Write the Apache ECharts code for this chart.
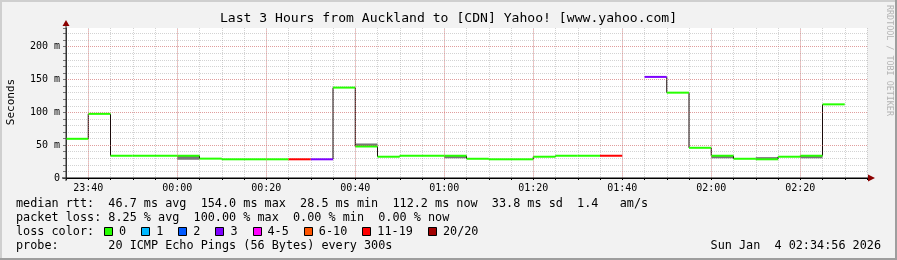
<!DOCTYPE html>
<html><head><meta charset="utf-8">
<script src="https://cdn.jsdelivr.net/npm/echarts@6/dist/echarts.min.js"></script>
<style>html,body{margin:0;padding:0;background:#f2f2f2}#c{width:897px;height:260px}</style>
</head><body><div id="c"></div>
<script>
// ---------------- data ----------------
const startClock = "23:35";
const rangeMinutes = 180;
const segStarts = ["23:35","23:40","23:45","23:50","23:55","00:00","00:05","00:10","00:15","00:20","00:25","00:30",
  "00:35","00:40","00:45","00:50","00:55","01:00","01:05","01:10","01:15","01:20","01:25","01:30",
  "01:35","01:40","01:45","01:50","01:55","02:00","02:05","02:10","02:15","02:20","02:25","02:30"];
const medianMs = [59.7,97.7,33.9,33.9,33.9,33.9,29.5,28.5,28.5,28.5,28.5,28.5,
  137.7,48.0,32.4,33.9,33.9,33.9,29.3,28.5,28.5,32.4,33.9,33.9,
  33.9,null,154.0,130.0,46.0,33.9,29.3,28.5,32.4,33.9,112.2,null];
const lossBucket = [0,0,0,0,0,0,0,0,0,0,6,3,
  0,0,0,0,0,0,0,0,0,0,0,0,
  6,null,3,0,0,0,0,0,0,0,0,null];
const smokeLow  = [null,null,null,null,null,27.8,null,null,null,null,null,null,
  null,48.0,null,null,null,30.0,null,null,null,null,null,null,
  null,null,null,null,null,30.0,null,28.5,null,30.0,null,null];
const smokeHigh = [null,null,null,null,null,33.9,null,null,null,null,null,null,
  null,52.6,null,null,null,33.9,null,null,null,null,null,null,
  null,null,null,null,null,33.9,null,31.8,null,33.9,null,null];
const xTickLabels = ["23:40","00:00","00:20","00:40","01:00","01:20","01:40","02:00","02:20"];
const yTickValues = [0,50,100,150,200];
const yMax = 228.5;
const lossLabels = ["0","1","2","3","4-5","6-10","11-19","20/20"];
const lossColors = ["#26ff00","#00b8ff","#0059ff","#7e00ff","#ff00fe","#ff5500","#ff0000","#a10000"];
const titleText = "Last 3 Hours from Auckland to [CDN] Yahoo! [www.yahoo.com]";
const yAxisName = "Seconds";
const statLines = [
  "median rtt:  46.7 ms avg  154.0 ms max  28.5 ms min  112.2 ms now  33.8 ms sd  1.4   am/s",
  "packet loss: 8.25 % avg  100.00 % max  0.00 % min  0.00 % now"
];
const lossColorLabel = "loss color:";
const probeLine = "probe:       20 ICMP Echo Pings (56 Bytes) every 300s";
const dateText = "Sun Jan  4 02:34:56 2026";
const watermark = "RRDTOOL / TOBI OETIKER";

// ---------------- helpers ----------------
function toMin(hhmm) {
  const [h, m] = hhmm.split(":").map(Number);
  const [sh, sm] = startClock.split(":").map(Number);
  let t = h * 60 + m - (sh * 60 + sm);
  if (t < 0) t += 1440;
  return t;
}
const STEP = 5;
const segData = [], smokeData = [], vertData = [];
segStarts.forEach((s, i) => {
  const t0 = toMin(s), t1 = t0 + STEP;
  if (medianMs[i] != null) segData.push([t0, t1, medianMs[i], lossBucket[i]]);
  if (smokeLow[i] != null) smokeData.push([t0, t1, smokeLow[i], smokeHigh[i]]);
  if (i + 1 < segStarts.length && medianMs[i] != null && medianMs[i + 1] != null)
    vertData.push([t1, medianMs[i], medianMs[i + 1]]);
});
const xTickMin = xTickLabels.map(toMin);

const MONO = '"DejaVu Sans Mono", monospace';
const chart = echarts.init(document.getElementById('c'), null, {renderer: 'canvas'});

const gridStyleMinor = {color: 'rgba(150,150,150,0.42)', type: [1, 1], width: 1};
const gridStyleMajor = {color: 'rgba(240,90,90,0.45)', type: [1, 1], width: 1};

const option = {
  animation: false,
  backgroundColor: '#f2f2f2',
  grid: {left: 66, right: 30, top: 28, bottom: 82, show: true, backgroundColor: '#ffffff', borderWidth: 0},
  xAxis: {
    type: 'value', min: 0, max: rangeMinutes, interval: 5,
    axisLine: {show: true, lineStyle: {color: '#000', width: 1}},
    axisTick: {show: true, length: 2, inside: false, lineStyle: {color: '#000'}},
    axisLabel: {
      margin: 5, fontFamily: MONO, fontSize: 10, color: '#000',
      formatter: v => { const k = xTickMin.indexOf(v); return k >= 0 ? xTickLabels[k] : ''; }
    },
    splitLine: {show: true, showMinLine: false, lineStyle: gridStyleMinor}
  },
  yAxis: {
    type: 'value', min: 0, max: yMax, interval: 10,
    axisLine: {show: true, lineStyle: {color: '#333', width: 1}},
    axisTick: {show: true, length: 3, lineStyle: {color: '#777'}},
    axisLabel: {
      margin: 6, fontFamily: MONO, fontSize: 10, color: '#000',
      formatter: v => yTickValues.indexOf(v) >= 0 ? (v === 0 ? '0' : v + ' m') : ''
    },
    splitLine: {show: true, showMinLine: false, showMaxLine: false, lineStyle: gridStyleMinor}
  },
  series: [
    {
      type: 'line', data: [], z: 1, silent: true,
      markLine: {
        silent: true, symbol: 'none', label: {show: false}, animation: false,
        lineStyle: gridStyleMajor, emphasis: {disabled: true},
        data: xTickMin.map(m => ({xAxis: m})).concat(yTickValues.filter(v => v > 0).map(v => ({yAxis: v})))
      }
    },
    {
      type: 'custom', z: 2, silent: true, data: smokeData, encode: {x: [0, 1], y: [2, 3]},
      renderItem: (p, api) => {
        const a = api.coord([api.value(0), api.value(3)]);
        const b = api.coord([api.value(1), api.value(2)]);
        return {type: 'rect', shape: {x: a[0], y: a[1], width: b[0] - a[0], height: b[1] - a[1]},
          style: {fill: '#777777'}};
      }
    },
    {
      type: 'custom', z: 3, silent: true, data: vertData, encode: {x: 0, y: [1, 2]},
      renderItem: (p, api) => {
        const a = api.coord([api.value(0), api.value(1)]);
        const b = api.coord([api.value(0), api.value(2)]);
        return {type: 'line', shape: {x1: a[0], y1: a[1], x2: b[0], y2: b[1]},
          style: {stroke: '#1a0a0a', lineWidth: 1}};
      }
    },
    {
      type: 'custom', z: 4, silent: true, data: segData, encode: {x: [0, 1], y: 2},
      renderItem: (p, api) => {
        const a = api.coord([api.value(0), api.value(2)]);
        const b = api.coord([api.value(1), api.value(2)]);
        return {type: 'line', shape: {x1: a[0], y1: a[1], x2: b[0], y2: b[1]},
          style: {stroke: lossColors[api.value(3)], lineWidth: 2}};
      }
    }
  ]
};
chart.setOption(option);

// ---------------- decorations (text, legend, arrows, frame) ----------------
const W = 897, H = 260;
const pO = chart.convertToPixel({gridIndex: 0}, [0, 0]);
const pTop = chart.convertToPixel({gridIndex: 0}, [0, yMax]);
const pRight = chart.convertToPixel({gridIndex: 0}, [rangeMinutes, 0]);
const CW = 7.118; // char advance at 11.8px mono
const g = [];
// frame shading
g.push({type: 'rect', shape: {x: 0, y: 0, width: W, height: 2}, style: {fill: '#cfcfcf'}, z: 100});
g.push({type: 'rect', shape: {x: 0, y: 0, width: 2, height: H}, style: {fill: '#cfcfcf'}, z: 100});
g.push({type: 'rect', shape: {x: W - 2, y: 0, width: 2, height: H}, style: {fill: '#9e9e9e'}, z: 100});
g.push({type: 'rect', shape: {x: 0, y: H - 2, width: W, height: 2}, style: {fill: '#9e9e9e'}, z: 100});
// title
g.push({type: 'text', x: W / 2, y: 19, style: {text: titleText, font: '13.1px ' + MONO, fill: '#000', align: 'center', verticalAlign: 'middle'}, z: 50});
// y name
g.push({type: 'text', x: 11, y: 102, rotation: Math.PI / 2, style: {text: yAxisName, font: '11px ' + MONO, fill: '#000', align: 'center', verticalAlign: 'middle'}, z: 50});
// watermark
g.push({type: 'text', x: 889, y: 5, rotation: -Math.PI / 2, style: {text: watermark, font: '8.4px ' + MONO, fill: '#b4b4b4', align: 'left', verticalAlign: 'middle'}, z: 50});
// axis extensions and arrows
g.push({type: 'line', shape: {x1: pO[0] - 4, y1: pO[1], x2: pRight[0] + 1, y2: pO[1]}, style: {stroke: '#000', lineWidth: 1}, z: 60});
g.push({type: 'line', shape: {x1: pO[0], y1: pO[1] + 3, x2: pO[0], y2: pTop[1] - 2}, style: {stroke: '#333', lineWidth: 1}, z: 60});
g.push({type: 'polygon', shape: {points: [[pTop[0] - 3.5, pTop[1] - 2], [pTop[0] + 3.5, pTop[1] - 2], [pTop[0], pTop[1] - 8]]}, style: {fill: '#8b0000'}, z: 61});
g.push({type: 'polygon', shape: {points: [[pRight[0] + 1, pRight[1] - 3.5], [pRight[0] + 1, pRight[1] + 3.5], [pRight[0] + 8, pRight[1]]]}, style: {fill: '#8b0000'}, z: 61});
// legend text lines
const LX = 16, LF = '11.8px ' + MONO;
const lineY = [204, 218, 232, 246];
statLines.forEach((s, i) => g.push({type: 'text', x: LX, y: lineY[i], style: {text: s, font: LF, fill: '#000', verticalAlign: 'middle'}, z: 50}));
g.push({type: 'text', x: LX, y: lineY[2], style: {text: lossColorLabel, font: LF, fill: '#000', verticalAlign: 'middle'}, z: 50});
let bx = LX + 13 * CW - 4.5;
lossLabels.forEach((lab, i) => {
  g.push({type: 'rect', shape: {x: Math.round(bx) + 0.5, y: lineY[2] - 4.5, width: 8, height: 8}, style: {fill: lossColors[i], stroke: '#000', lineWidth: 1}, z: 50});
  const lx = bx + 15;
  g.push({type: 'text', x: lx, y: lineY[2], style: {text: lab, font: LF, fill: '#000', verticalAlign: 'middle'}, z: 50});
  bx = lx + lab.length * CW + 15;
});
g.push({type: 'text', x: LX, y: lineY[3], style: {text: probeLine, font: LF, fill: '#000', verticalAlign: 'middle'}, z: 50});
g.push({type: 'text', x: 881, y: lineY[3], style: {text: dateText, font: LF, fill: '#000', align: 'right', verticalAlign: 'middle'}, z: 50});
chart.setOption({graphic: {elements: g}});
</script></body></html>
